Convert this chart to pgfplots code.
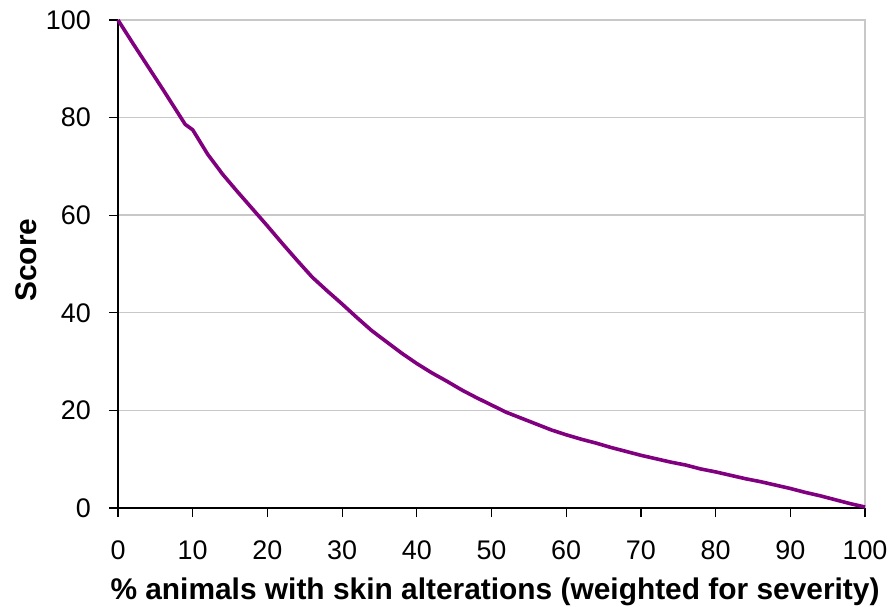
\documentclass[border=0pt]{standalone}
\usepackage{fontspec}
\setmainfont{Liberation Sans}
\usepackage{pgfplots}
\pgfplotsset{compat=1.18}
\definecolor{curve}{RGB}{128,0,128}
\definecolor{gridgray}{RGB}{200,200,200}

\begin{document}
\begin{tikzpicture}
\begin{axis}[
    at={(0,0)}, anchor=south west,
    scale only axis,
    width=747bp, height=488bp,
    xmin=0, xmax=100, ymin=0, ymax=100,
    xtick={0,10,...,100}, ytick={0,20,...,100},
    axis lines=left,
    axis line style={-, black, line width=1.2bp},
    tick align=outside,
    major tick length=9bp,
    tick style={black, line width=1.2bp},
    ymajorgrids,
    grid style={gridgray, line width=1.4bp},
    /pgf/number format/assume math mode=true,
    ticklabel style={font=\fontsize{27}{30}\selectfont, inner sep=0pt},
    xticklabel style={yshift=-24bp},
    yticklabel style={xshift=-18bp},
    xlabel={\bfseries \% animals with skin alterations (weighted for severity)},
    ylabel={\bfseries Score},
    label style={font=\fontsize{30}{34}\selectfont},
    xlabel style={at={(0.5047,-0.1885)}, anchor=base, inner sep=0pt},
    ylabel style={at={(-0.1084,0.508)}, anchor=south, inner sep=0pt},
    clip=false,
]
\draw[gridgray, line width=1.4bp] (rel axis cs:0,1) -- (rel axis cs:1,1) -- (rel axis cs:1,0);
\addplot[curve, line width=3.6bp, line join=round] coordinates {
    (0,100) (2,95.2) (4,90.5) (6,85.8) (8,81) (9,78.6) (10,77.5) (12,72.5)
    (14,68.4) (16,64.8) (18,61.3) (20,57.8) (22,54.2) (24,50.7) (26,47.3)
    (28,44.5) (30,41.8) (32,39) (34,36.3) (36,34) (38,31.7) (40,29.6)
    (42,27.7) (44,26) (46,24.2) (48,22.6) (50,21.1) (52,19.6) (54,18.4)
    (56,17.2) (58,16) (60,15) (62,14.1) (64,13.3) (66,12.4) (68,11.6)
    (70,10.8) (72,10.1) (74,9.4) (76,8.8) (78,8) (80,7.4) (82,6.7)
    (84,6) (86,5.4) (88,4.7) (90,4) (92,3.2) (94,2.5) (96,1.7) (98,0.9) (100,0.2)
};
\end{axis}
\pgfresetboundingbox
\path (-118bp,-99bp) rectangle (775bp,508bp);
\end{tikzpicture}
\end{document}
